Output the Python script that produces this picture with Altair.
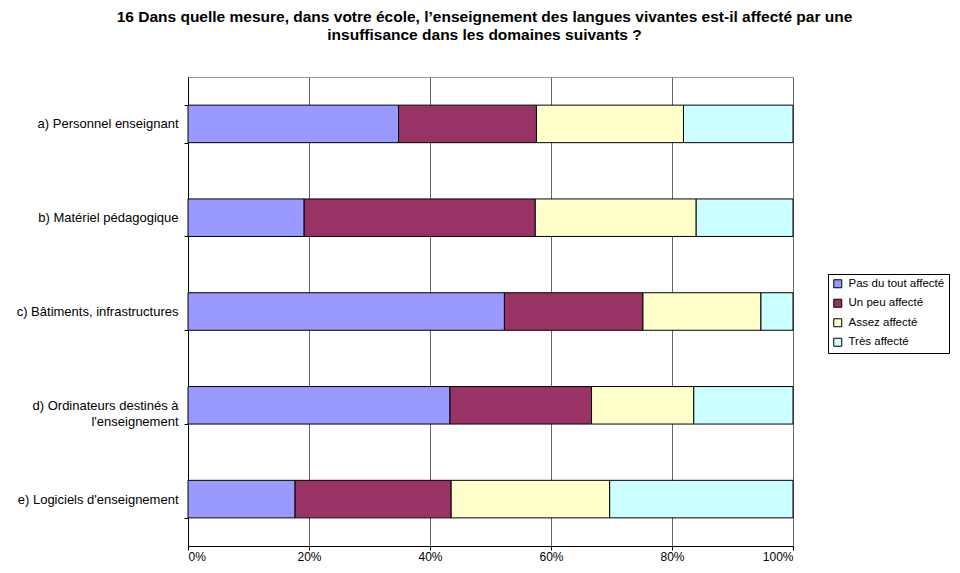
import altair as alt
import pandas as pd

categories = [
    "a) Personnel enseignant",
    "b) Matériel pédagogique",
    "c) Bâtiments, infrastructures",
    "d) Ordinateurs destinés à|l'enseignement",
    "e) Logiciels d'enseignement",
]
series = ["Pas du tout affecté", "Un peu affecté", "Assez affecté", "Très affecté"]
colors = ["#9999FF", "#993366", "#FFFFCC", "#CCFFFF"]

pas_du_tout = [34.8, 19.2, 52.3, 43.3, 17.7]
un_peu = [22.8, 38.2, 22.9, 23.4, 25.8]
assez = [24.3, 26.6, 19.5, 16.9, 26.2]
tres = [18.1, 16.0, 5.3, 16.4, 30.3]

values = [pas_du_tout, un_peu, assez, tres]
rows = []
for si, (s, vals) in enumerate(zip(series, values)):
    for c, v in zip(categories, vals):
        rows.append({"cat": c, "serie": s, "val": v, "ord": si})
df = pd.DataFrame(rows)

title_lines = [
    "16 Dans quelle mesure, dans votre école, l’enseignement des langues vivantes est-il affecté par une",
    "insuffisance dans les domaines suivants ?",
]

font = "Liberation Sans"
nbsp = "\u00a0" * 7
label_expr = (
    "indexof(datum.label, '|') >= 0 ? "
    "[split(datum.label, '|')[0], split(datum.label, '|')[1] + '" + nbsp + "'] : datum.label"
)

chart = (
    alt.Chart(df)
    .mark_bar(stroke="black", strokeWidth=1)
    .encode(
        x=alt.X(
            "sum(val):Q",
            stack="normalize",
            scale=alt.Scale(domain=[0, 1], nice=False),
            axis=alt.Axis(
                format="%",
                values=[0, 0.2, 0.4, 0.6, 0.8, 1.0],
                title=None,
                grid=True,
                gridColor="#666666",
                gridWidth=1,
                tickSize=4,
                tickColor="black",
                domainColor="black",
                labelPadding=1,
                labelFontSize=12,
                labelFont=font,
                labelColor="black",
            ),
        ),
        y=alt.Y(
            "cat:N",
            sort=categories,
            scale=alt.Scale(paddingInner=0.6, paddingOuter=0.3),
            axis=alt.Axis(
                title=None,
                tickBand="extent",
                tickSize=4,
                tickColor="black",
                domainColor="black",
                labelPadding=6,
                labelFontSize=13,
                labelFont=font,
                labelColor="black",
                labelLineHeight=16,
                labelExpr=label_expr,
                labelLimit=300,
            ),
        ),
        color=alt.Color(
            "serie:N",
            sort=series,
            scale=alt.Scale(domain=series, range=colors),
            legend=alt.Legend(
                title=None,
                orient="none",
                legendX=640,
                legendY=197,
                symbolType="square",
                symbolSize=64,
                symbolStrokeColor="black",
                symbolStrokeWidth=1,
                labelFontSize=11.5,
                labelFont=font,
                labelColor="black",
                labelOffset=5,
                rowPadding=6.5,
                padding=4,
                strokeColor="black",
                fillColor="white",
            ),
        ),
        order=alt.Order("ord:Q", sort="ascending"),
    )
    .properties(
        width=605,
        height=469,
        padding={"left": 180, "top": 69, "right": 159, "bottom": 17},
        autosize=alt.AutoSizeParams(type="none"),
        title=alt.TitleParams(
            text=title_lines,
            anchor="middle",
            font=font,
            fontSize=15.5,
            fontWeight="bold",
            color="black",
            offset=28,
            lineHeight=18,
            dx=-6,
        ),
    )
    .configure_view(stroke="#999999", strokeWidth=1)
)

chart.save("out.html", embed_options={"renderer": "svg", "actions": False})
